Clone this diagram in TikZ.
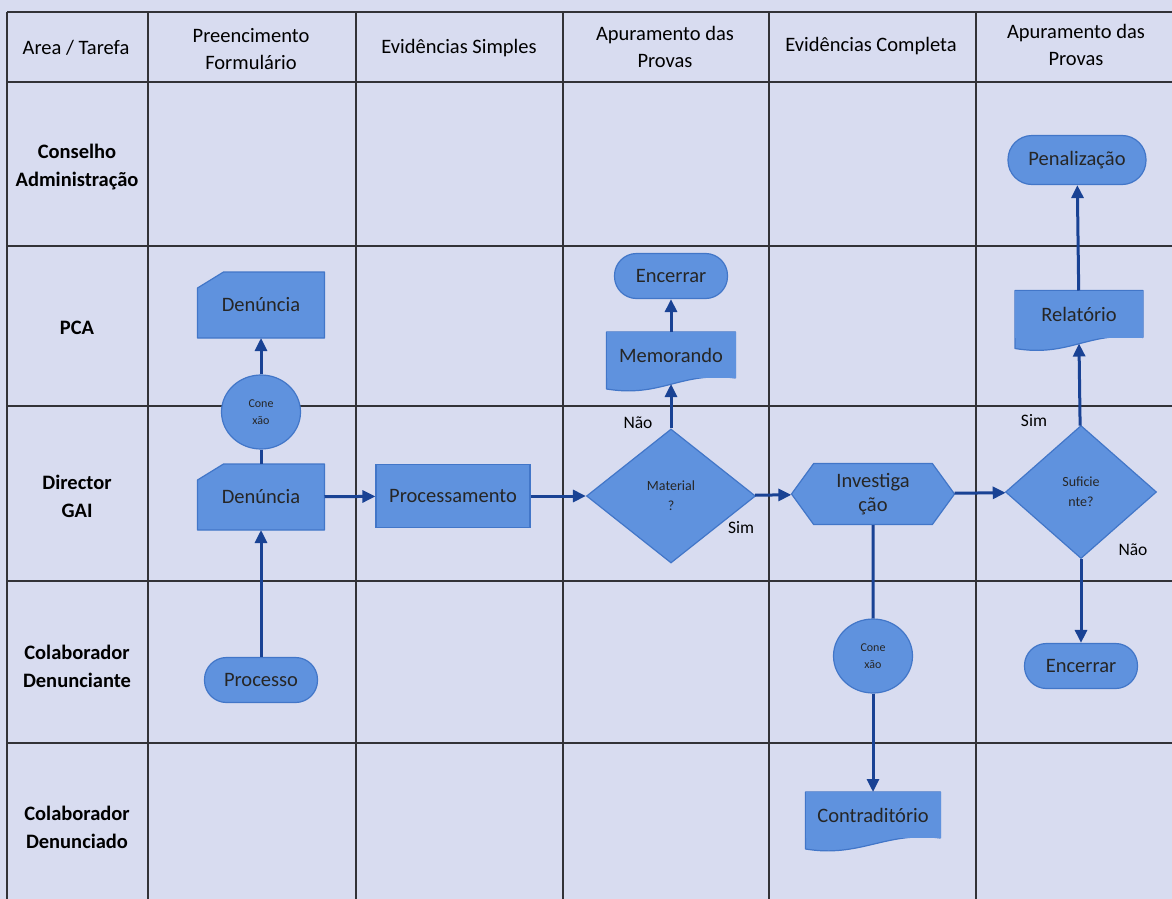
\documentclass[tikz,border=0pt]{standalone}
\usepackage{fontspec}
\setmainfont{Carlito}
\usetikzlibrary{calc}
\usetikzlibrary{arrows.meta}
\usetikzlibrary{shapes.geometric,shapes.symbols}

\definecolor{paper}{RGB}{216,220,240}
\definecolor{boxfill}{RGB}{95,146,222}
\definecolor{boxline}{RGB}{66,118,200}
\definecolor{flow}{RGB}{25,66,148}
\definecolor{gridline}{RGB}{50,50,55}

\tikzset{
  shp/.style={fill=boxfill, draw=boxline, line width=1.2pt, text=black!85, align=center,
    font=\fontsize{20.5}{24}\selectfont, inner sep=1pt},
  term/.style={shp, rounded corners=22pt, minimum width=113, minimum height=45},
  card/.style={shp, fill=none, draw=none, outer sep=0pt, minimum width=127, minimum height=66,
    append after command={\pgfextra{\let\cardnd\tikzlastnode
      \filldraw[fill=boxfill, draw=boxline, line width=1.2pt, line join=round] ($(\cardnd.north west)+(26,0)$) -- (\cardnd.north east)
        -- (\cardnd.south east) -- (\cardnd.south west) -- ($(\cardnd.north west)+(0,16)$) -- cycle;}}},
  doc/.style={shp, draw=none, outer sep=0pt, minimum width=130, minimum height=46,
    append after command={\pgfextra{\let\docnd\tikzlastnode
      \fill[boxfill] ($(\docnd.south west)+(0,-1)$) -- ++(0,12) .. controls +(55,9) and +(-55,-7) .. (\docnd.south east) -- ++(0,-1) -- cycle;
      \draw[boxline, line width=1.2pt, line join=round] (\docnd.south east) -- (\docnd.north east) -- (\docnd.north west)
        -- ($(\docnd.south west)+(0,11)$) .. controls +(55,9) and +(-55,-7) .. (\docnd.south east);}}},
  dec/.style={shp, diamond, inner sep=0pt, font=\fontsize{14}{20}\selectfont},
  conn/.style={shp, ellipse, minimum width=79, minimum height=74, inner sep=0pt, font=\fontsize{12}{17}\selectfont},
  hexa/.style={shp, signal, signal to=east and west, signal pointer angle=108, minimum width=163, minimum height=61},
  lbl/.style={font=\fontsize{17.5}{20}\selectfont},
  hdr/.style={align=center, font=\fontsize{20.5}{27}\selectfont},
  lane/.style={align=center, font=\bfseries\fontsize{20.5}{28}\selectfont},
  flowline/.style={flow, line width=3pt, -{Triangle[length=13pt,width=12pt]}},
  flowjoin/.style={flow, line width=3pt}
}

\begin{document}
\begin{tikzpicture}[x=1pt, y=-1pt]

\useasboundingbox (0,0) rectangle (1172,899);
\fill[paper] (0,0) rectangle (1172,899);

\draw[gridline, line width=1.5pt] (7,12) -- (1172,12) (7,82) -- (1172,82) (7,246) -- (1172,246)
  (7,406) -- (1172,406) (7,581) -- (1172,581) (7,743) -- (1172,743);
\draw[gridline, line width=1.5pt] (7,12) -- (7,899) (148,12) -- (148,899) (356,12) -- (356,899)
  (563,12) -- (563,899) (769,12) -- (769,899) (976,12) -- (976,899);

\node[hdr] (h0) at (76,48) {Area / Tarefa};
\node[hdr] (h1) at (251,49) {Preencimento\\Formulário};
\node[hdr] (h2) at (459,48) {Evidências Simples};
\node[hdr] (h3) at (665,47) {Apuramento das\\Provas};
\node[hdr] (h4) at (871,46) {Evidências Completa};
\node[hdr] (h5) at (1076,45) {Apuramento das\\Provas};

\node[lane] (r1) at (77,167) {Conselho\\Administração};
\node[lane] (r2) at (77,328) {PCA};
\node[lane] (r3) at (77,496) {Director\\GAI};
\node[lane] (r4) at (77,666) {Colaborador\\Denunciante};
\node[lane] (r5) at (77,827) {Colaborador\\Denunciado};

\node[term, minimum width=138, minimum height=49, rounded corners=24pt] (pen) at (1077,160) {Penalização};
\node[term] (fim1) at (671,276) {Encerrar};
\node[doc, minimum width=129] (memo) at (671,355) {Memorando};
\node[doc, minimum width=128, minimum height=47] (rel) at (1079,314) {Relatório};
\node[card] (den1) at (261,305) {Denúncia};
\node[conn] (con1) at (261,412) {Cone\\xão};
\node[card] (den2) at (261,497) {Denúncia};
\node[shp, minimum width=154, minimum height=63] (proc) at (453,496) {Processamento};
\node[dec, minimum width=169, minimum height=134] (mat) at (671,496) {Material\\?};
\node[hexa] (inv) at (873,494) {Investiga\\ção};
\node[dec, minimum width=151, minimum height=133] (suf) at (1081,492) {Suficie\\nte?};
\node[term] (proc0) at (261,680) {Processo};
\node[conn] (con2) at (873,656) {Cone\\xão};
\node[term] (fim2) at (1081,666) {Encerrar};
\node[doc, minimum width=135] (contr) at (873,815) {Contraditório};

\node[lbl] (nao1) at ($(mat.north)+(-33,-6)$) {Não};
\node[lbl] (sim1) at ($(mat.east)+(-15,32)$) {Sim};
\node[lbl] (sim2) at ($(suf.north)+(-47,-4)$) {Sim};
\node[lbl] (nao2) at ($(suf.south)+(52,-9)$) {Não};

\draw[flowline] (proc0) -- (den2);
\draw[flowjoin] (den2) -- (con1);
\draw[flowline] (con1) -- (den1);
\draw[flowline] (den2) -- (proc);
\draw[flowline] (proc) -- (mat);
\draw[flowline] (mat) -- ($(memo.south)+(0,6)$);
\draw[flowline] (memo) -- (fim1);
\draw[flowline] (mat) -- (inv);
\draw[flowline] (inv) -- (suf);
\draw[flowline] (suf) -- ($(rel.south)+(0,6)$);
\draw[flowline] (rel) -- (pen);
\draw[flowline] (suf) -- (fim2);
\draw[flowjoin] (inv) -- (con2);
\draw[flowline] (con2) -- (contr);

\end{tikzpicture}
\end{document}
